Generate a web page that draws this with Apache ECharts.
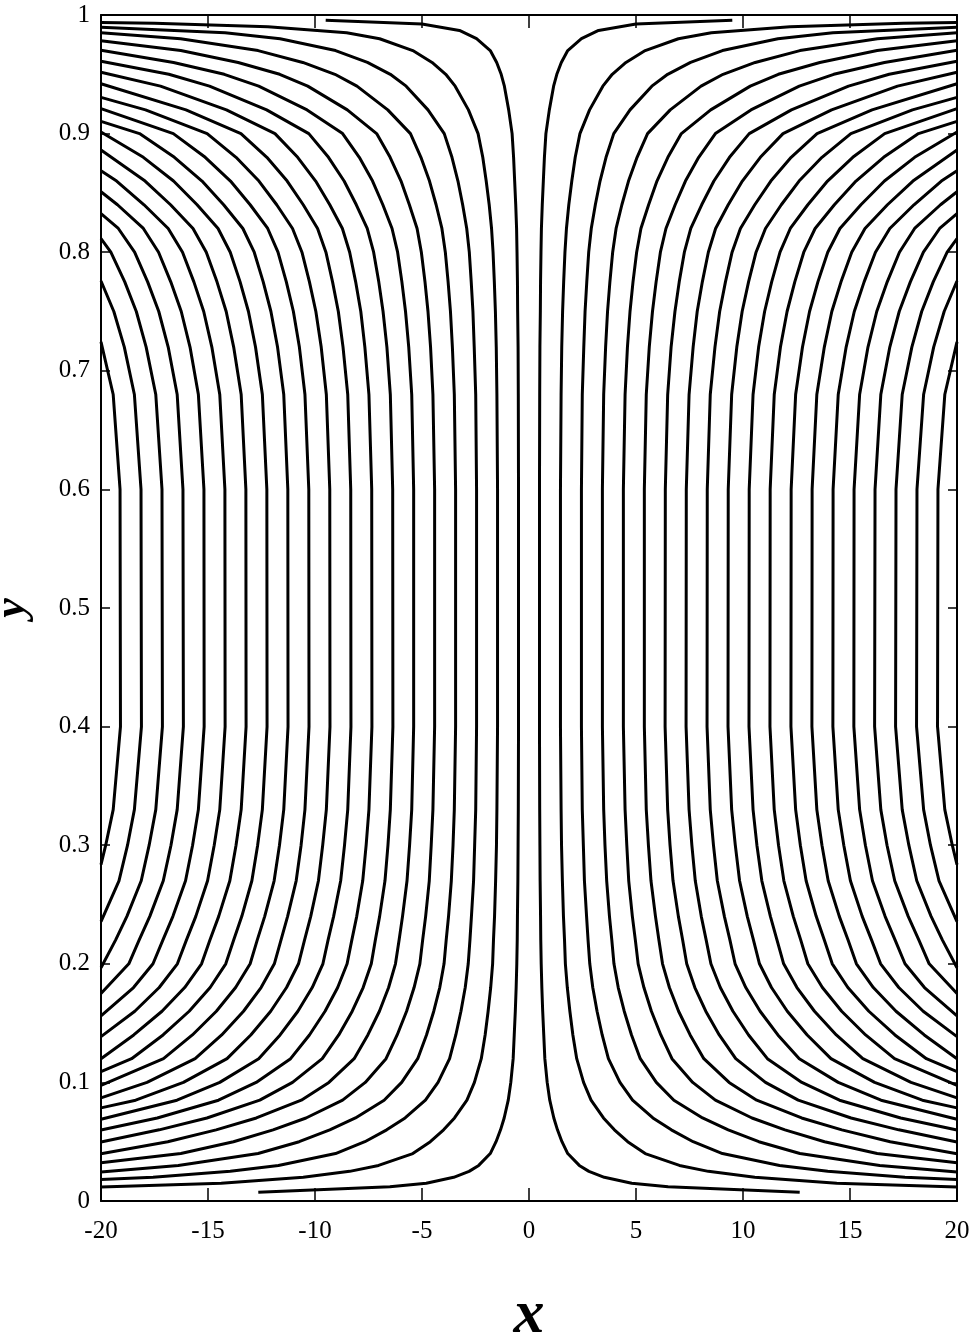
<!DOCTYPE html>
<html>
<head>
<meta charset="utf-8">
<title>Streamlines</title>
<script src="https://cdn.jsdelivr.net/npm/echarts@6/dist/echarts.min.js"></script>
<style>
  html, body { margin: 0; padding: 0; background: #fff; }
  #chart { width: 969px; height: 1337px; }
</style>
</head>
<body>
<div id="chart"></div>
<script>
// 坐标轴刻度
const xTicks = [-20, -15, -10, -5, 0, 5, 10, 15, 20];
const yTicks = [0, 0.1, 0.2, 0.3, 0.4, 0.5, 0.6, 0.7, 0.8, 0.9, 1];

// 左半部分流线 (从上边界到下边界)，[x, y]
const left00 = [[-9.5,0.9955],[-5.0,0.9924],[-3.25,0.987],[-2.45,0.98],[-1.81,0.97],[-1.51,0.96],[-1.30,0.95],[-1.15,0.94],[-0.95,0.92],[-0.79,0.90],[-0.72,0.88],[-0.67,0.86],[-0.62,0.84],[-0.58,0.82],[-0.56,0.80],[-0.54,0.775],[-0.53,0.75],[-0.51,0.72],[-0.50,0.68],[-0.49,0.60],[-0.49,0.40],[-0.50,0.33],[-0.51,0.30],[-0.52,0.27],[-0.54,0.24],[-0.55,0.22],[-0.57,0.20],[-0.60,0.18],[-0.64,0.16],[-0.69,0.14],[-0.74,0.12],[-0.85,0.10],[-0.97,0.085],[-1.16,0.07],[-1.33,0.06],[-1.54,0.05],[-1.81,0.04],[-2.35,0.03],[-2.80,0.025],[-3.52,0.02],[-4.80,0.015],[-6.5,0.012],[-12.65,0.0073]];
const left01 = [[-20,0.9936],[-17.5,0.993],[-12.2,0.99],[-8.52,0.985],[-6.98,0.98],[-5.43,0.97],[-4.53,0.96],[-3.89,0.95],[-3.45,0.94],[-2.83,0.92],[-2.38,0.90],[-2.16,0.88],[-2.0,0.86],[-1.86,0.84],[-1.75,0.82],[-1.68,0.80],[-1.62,0.775],[-1.57,0.75],[-1.53,0.72],[-1.50,0.68],[-1.47,0.60],[-1.47,0.40],[-1.50,0.33],[-1.52,0.30],[-1.56,0.27],[-1.61,0.24],[-1.66,0.22],[-1.70,0.20],[-1.79,0.18],[-1.91,0.16],[-2.05,0.14],[-2.23,0.12],[-2.55,0.10],[-2.90,0.085],[-3.48,0.07],[-3.99,0.06],[-4.61,0.05],[-5.43,0.04],[-7.03,0.03],[-8.38,0.025],[-10.55,0.02],[-14.38,0.015],[-20,0.0118]];
const left02 = [[-20,0.9897],[-14.2,0.985],[-11.63,0.98],[-9.04,0.97],[-7.55,0.96],[-6.48,0.95],[-5.74,0.94],[-4.72,0.92],[-3.96,0.90],[-3.60,0.88],[-3.32,0.86],[-3.10,0.84],[-2.91,0.82],[-2.79,0.80],[-2.70,0.775],[-2.62,0.75],[-2.56,0.72],[-2.49,0.68],[-2.45,0.60],[-2.45,0.40],[-2.49,0.33],[-2.54,0.30],[-2.59,0.27],[-2.69,0.24],[-2.76,0.22],[-2.84,0.20],[-2.98,0.18],[-3.18,0.16],[-3.42,0.14],[-3.71,0.12],[-4.25,0.10],[-4.84,0.085],[-5.79,0.07],[-6.65,0.06],[-7.67,0.05],[-9.04,0.04],[-11.71,0.03],[-13.96,0.025],[-17.57,0.02],[-20,0.0181]];
const left03 = [[-20,0.9851],[-16.28,0.98],[-12.66,0.97],[-10.57,0.96],[-9.07,0.95],[-8.04,0.94],[-6.60,0.92],[-5.54,0.90],[-5.05,0.88],[-4.65,0.86],[-4.34,0.84],[-4.07,0.82],[-3.91,0.80],[-3.78,0.775],[-3.67,0.75],[-3.58,0.72],[-3.49,0.68],[-3.43,0.60],[-3.43,0.40],[-3.49,0.33],[-3.55,0.30],[-3.63,0.27],[-3.76,0.24],[-3.87,0.22],[-3.97,0.20],[-4.17,0.18],[-4.45,0.16],[-4.79,0.14],[-5.20,0.12],[-5.95,0.10],[-6.77,0.085],[-8.11,0.07],[-9.31,0.06],[-10.74,0.05],[-12.66,0.04],[-16.39,0.03],[-20,0.0245]];
const left04 = [[-20,0.9782],[-16.27,0.97],[-13.59,0.96],[-11.65,0.95],[-10.34,0.94],[-8.49,0.92],[-7.12,0.90],[-6.49,0.88],[-5.98,0.86],[-5.59,0.84],[-5.23,0.82],[-5.03,0.80],[-4.86,0.775],[-4.72,0.75],[-4.60,0.72],[-4.49,0.68],[-4.41,0.60],[-4.41,0.40],[-4.49,0.33],[-4.57,0.30],[-4.66,0.27],[-4.83,0.24],[-4.97,0.22],[-5.10,0.20],[-5.37,0.18],[-5.72,0.16],[-6.16,0.14],[-6.68,0.12],[-7.65,0.10],[-8.71,0.085],[-10.42,0.07],[-11.96,0.06],[-13.81,0.05],[-16.27,0.04],[-20,0.0322]];
const left05 = [[-20,0.9702],[-16.61,0.96],[-14.24,0.95],[-12.63,0.94],[-10.37,0.92],[-8.71,0.90],[-7.93,0.88],[-7.31,0.86],[-6.83,0.84],[-6.40,0.82],[-6.14,0.80],[-5.94,0.775],[-5.77,0.75],[-5.62,0.72],[-5.48,0.68],[-5.39,0.60],[-5.39,0.40],[-5.48,0.33],[-5.58,0.30],[-5.70,0.27],[-5.91,0.24],[-6.07,0.22],[-6.24,0.20],[-6.56,0.18],[-6.99,0.16],[-7.53,0.14],[-8.17,0.12],[-9.35,0.10],[-10.64,0.085],[-12.74,0.07],[-14.62,0.06],[-16.88,0.05],[-20,0.0398]];
const left06 = [[-20,0.961],[-16.83,0.95],[-14.93,0.94],[-12.26,0.92],[-10.29,0.90],[-9.37,0.88],[-8.64,0.86],[-8.07,0.84],[-7.56,0.82],[-7.26,0.80],[-7.02,0.775],[-6.82,0.75],[-6.64,0.72],[-6.48,0.68],[-6.37,0.60],[-6.36,0.40],[-6.48,0.33],[-6.59,0.30],[-6.73,0.27],[-6.98,0.24],[-7.18,0.22],[-7.37,0.20],[-7.75,0.18],[-8.26,0.16],[-8.89,0.14],[-9.66,0.12],[-11.05,0.10],[-12.58,0.085],[-15.05,0.07],[-17.28,0.06],[-20,0.0498]];
const left07 = [[-20,0.9518],[-17.22,0.94],[-14.14,0.92],[-11.87,0.90],[-10.81,0.88],[-9.97,0.86],[-9.31,0.84],[-8.72,0.82],[-8.38,0.80],[-8.10,0.775],[-7.86,0.75],[-7.67,0.72],[-7.48,0.68],[-7.35,0.60],[-7.34,0.40],[-7.48,0.33],[-7.61,0.30],[-7.77,0.27],[-8.05,0.24],[-8.28,0.22],[-8.50,0.20],[-8.94,0.18],[-9.53,0.16],[-10.26,0.14],[-11.14,0.12],[-12.75,0.10],[-14.51,0.085],[-17.37,0.07],[-20,0.0598]];
const left08 = [[-20,0.942],[-16.03,0.92],[-13.46,0.90],[-12.25,0.88],[-11.30,0.86],[-10.55,0.84],[-9.88,0.82],[-9.49,0.80],[-9.18,0.775],[-8.91,0.75],[-8.69,0.72],[-8.47,0.68],[-8.33,0.60],[-8.32,0.40],[-8.47,0.33],[-8.62,0.30],[-8.80,0.27],[-9.13,0.24],[-9.39,0.22],[-9.63,0.20],[-10.13,0.18],[-10.80,0.16],[-11.63,0.14],[-12.63,0.12],[-14.45,0.10],[-16.45,0.085],[-20,0.0689]];
const left09 = [[-20,0.9305],[-17.92,0.92],[-15.04,0.90],[-13.69,0.88],[-12.62,0.86],[-11.79,0.84],[-11.05,0.82],[-10.61,0.80],[-10.26,0.775],[-9.96,0.75],[-9.71,0.72],[-9.47,0.68],[-9.31,0.60],[-9.30,0.40],[-9.47,0.33],[-9.64,0.30],[-9.84,0.27],[-10.20,0.24],[-10.49,0.22],[-10.77,0.20],[-11.33,0.18],[-12.07,0.16],[-13.00,0.14],[-14.11,0.12],[-16.15,0.10],[-18.38,0.085],[-20,0.0785]];
const left10 = [[-20,0.921],[-16.62,0.90],[-15.13,0.88],[-13.95,0.86],[-13.03,0.84],[-12.21,0.82],[-11.73,0.80],[-11.34,0.775],[-11.01,0.75],[-10.73,0.72],[-10.47,0.68],[-10.29,0.60],[-10.28,0.40],[-10.47,0.33],[-10.65,0.30],[-10.88,0.27],[-11.28,0.24],[-11.59,0.22],[-11.90,0.20],[-12.52,0.18],[-13.34,0.16],[-14.36,0.14],[-15.60,0.12],[-17.85,0.10],[-20,0.0869]];
const left11 = [[-20,0.9103],[-18.20,0.90],[-16.57,0.88],[-15.28,0.86],[-14.27,0.84],[-13.37,0.82],[-12.84,0.80],[-12.42,0.775],[-12.06,0.75],[-11.75,0.72],[-11.46,0.68],[-11.27,0.60],[-11.26,0.40],[-11.46,0.33],[-11.66,0.30],[-11.91,0.27],[-12.35,0.24],[-12.70,0.22],[-13.03,0.20],[-13.71,0.18],[-14.61,0.16],[-15.73,0.14],[-17.08,0.12],[-20,0.0975]];
const left12 = [[-20,0.9013],[-18.02,0.88],[-16.61,0.86],[-15.51,0.84],[-14.53,0.82],[-13.96,0.80],[-13.50,0.775],[-13.11,0.75],[-12.78,0.72],[-12.46,0.68],[-12.25,0.60],[-12.24,0.40],[-12.46,0.33],[-12.68,0.30],[-12.95,0.27],[-13.42,0.24],[-13.80,0.22],[-14.17,0.20],[-14.90,0.18],[-15.88,0.16],[-17.10,0.14],[-18.57,0.12],[-20,0.109]];
const left13 = [[-20,0.8862],[-17.94,0.86],[-16.75,0.84],[-15.70,0.82],[-15.08,0.80],[-14.58,0.775],[-14.15,0.75],[-13.80,0.72],[-13.45,0.68],[-13.23,0.60],[-13.22,0.40],[-13.45,0.33],[-13.69,0.30],[-13.98,0.27],[-14.50,0.24],[-14.91,0.22],[-15.30,0.20],[-16.09,0.18],[-17.15,0.16],[-18.47,0.14],[-20,0.12]];
const left14 = [[-20,0.8687],[-19.27,0.86],[-17.99,0.84],[-16.86,0.82],[-16.19,0.80],[-15.66,0.775],[-15.20,0.75],[-14.82,0.72],[-14.45,0.68],[-14.21,0.60],[-14.20,0.40],[-14.45,0.33],[-14.71,0.30],[-15.02,0.27],[-15.57,0.24],[-16.01,0.22],[-16.43,0.20],[-17.28,0.18],[-18.42,0.16],[-20,0.1386]];
const left15 = [[-20,0.851],[-19.23,0.84],[-18.02,0.82],[-17.31,0.80],[-16.74,0.775],[-16.25,0.75],[-15.84,0.72],[-15.45,0.68],[-15.19,0.60],[-15.18,0.40],[-15.45,0.33],[-15.72,0.30],[-16.05,0.27],[-16.64,0.24],[-17.11,0.22],[-17.57,0.20],[-18.48,0.18],[-20,0.156]];
const left16 = [[-20,0.8325],[-19.19,0.82],[-18.43,0.80],[-17.82,0.775],[-17.30,0.75],[-16.86,0.72],[-16.44,0.68],[-16.17,0.60],[-16.15,0.40],[-16.44,0.33],[-16.73,0.30],[-17.09,0.27],[-17.72,0.24],[-18.22,0.22],[-18.70,0.20],[-20,0.175]];
const left17 = [[-20,0.8115],[-19.54,0.80],[-18.89,0.775],[-18.35,0.75],[-17.89,0.72],[-17.44,0.68],[-17.15,0.60],[-17.13,0.40],[-17.44,0.33],[-17.75,0.30],[-18.12,0.27],[-18.79,0.24],[-19.32,0.22],[-20,0.1967]];
const left18 = [[-20,0.7757],[-19.40,0.75],[-18.91,0.72],[-18.44,0.68],[-18.13,0.60],[-18.11,0.40],[-18.44,0.33],[-18.76,0.30],[-19.16,0.27],[-20,0.2355]];
const left19 = [[-20,0.7244],[-19.43,0.68],[-19.11,0.60],[-19.09,0.40],[-19.43,0.33],[-19.78,0.30],[-20,0.2836]];

// 右半部分流线
const right00 = [[9.5,0.9955],[5.0,0.9924],[3.25,0.987],[2.45,0.98],[1.81,0.97],[1.51,0.96],[1.30,0.95],[1.15,0.94],[0.95,0.92],[0.79,0.90],[0.72,0.88],[0.67,0.86],[0.62,0.84],[0.58,0.82],[0.56,0.80],[0.54,0.775],[0.53,0.75],[0.51,0.72],[0.50,0.68],[0.49,0.60],[0.49,0.40],[0.50,0.33],[0.51,0.30],[0.52,0.27],[0.54,0.24],[0.55,0.22],[0.57,0.20],[0.60,0.18],[0.64,0.16],[0.69,0.14],[0.74,0.12],[0.85,0.10],[0.97,0.085],[1.16,0.07],[1.33,0.06],[1.54,0.05],[1.81,0.04],[2.35,0.03],[2.80,0.025],[3.52,0.02],[4.80,0.015],[6.5,0.012],[12.65,0.0073]];
const right01 = [[20,0.9936],[17.5,0.993],[12.2,0.99],[8.52,0.985],[6.98,0.98],[5.43,0.97],[4.53,0.96],[3.89,0.95],[3.45,0.94],[2.83,0.92],[2.38,0.90],[2.16,0.88],[2.0,0.86],[1.86,0.84],[1.75,0.82],[1.68,0.80],[1.62,0.775],[1.57,0.75],[1.53,0.72],[1.50,0.68],[1.47,0.60],[1.47,0.40],[1.50,0.33],[1.52,0.30],[1.56,0.27],[1.61,0.24],[1.66,0.22],[1.70,0.20],[1.79,0.18],[1.91,0.16],[2.05,0.14],[2.23,0.12],[2.55,0.10],[2.90,0.085],[3.48,0.07],[3.99,0.06],[4.61,0.05],[5.43,0.04],[7.03,0.03],[8.38,0.025],[10.55,0.02],[14.38,0.015],[20,0.0118]];
const right02 = [[20,0.9897],[14.2,0.985],[11.63,0.98],[9.04,0.97],[7.55,0.96],[6.48,0.95],[5.74,0.94],[4.72,0.92],[3.96,0.90],[3.60,0.88],[3.32,0.86],[3.10,0.84],[2.91,0.82],[2.79,0.80],[2.70,0.775],[2.62,0.75],[2.56,0.72],[2.49,0.68],[2.45,0.60],[2.45,0.40],[2.49,0.33],[2.54,0.30],[2.59,0.27],[2.69,0.24],[2.76,0.22],[2.84,0.20],[2.98,0.18],[3.18,0.16],[3.42,0.14],[3.71,0.12],[4.25,0.10],[4.84,0.085],[5.79,0.07],[6.65,0.06],[7.67,0.05],[9.04,0.04],[11.71,0.03],[13.96,0.025],[17.57,0.02],[20,0.0181]];
const right03 = [[20,0.9851],[16.28,0.98],[12.66,0.97],[10.57,0.96],[9.07,0.95],[8.04,0.94],[6.60,0.92],[5.54,0.90],[5.05,0.88],[4.65,0.86],[4.34,0.84],[4.07,0.82],[3.91,0.80],[3.78,0.775],[3.67,0.75],[3.58,0.72],[3.49,0.68],[3.43,0.60],[3.43,0.40],[3.49,0.33],[3.55,0.30],[3.63,0.27],[3.76,0.24],[3.87,0.22],[3.97,0.20],[4.17,0.18],[4.45,0.16],[4.79,0.14],[5.20,0.12],[5.95,0.10],[6.77,0.085],[8.11,0.07],[9.31,0.06],[10.74,0.05],[12.66,0.04],[16.39,0.03],[20,0.0245]];
const right04 = [[20,0.9782],[16.27,0.97],[13.59,0.96],[11.65,0.95],[10.34,0.94],[8.49,0.92],[7.12,0.90],[6.49,0.88],[5.98,0.86],[5.59,0.84],[5.23,0.82],[5.03,0.80],[4.86,0.775],[4.72,0.75],[4.60,0.72],[4.49,0.68],[4.41,0.60],[4.41,0.40],[4.49,0.33],[4.57,0.30],[4.66,0.27],[4.83,0.24],[4.97,0.22],[5.10,0.20],[5.37,0.18],[5.72,0.16],[6.16,0.14],[6.68,0.12],[7.65,0.10],[8.71,0.085],[10.42,0.07],[11.96,0.06],[13.81,0.05],[16.27,0.04],[20,0.0322]];
const right05 = [[20,0.9702],[16.61,0.96],[14.24,0.95],[12.63,0.94],[10.37,0.92],[8.71,0.90],[7.93,0.88],[7.31,0.86],[6.83,0.84],[6.40,0.82],[6.14,0.80],[5.94,0.775],[5.77,0.75],[5.62,0.72],[5.48,0.68],[5.39,0.60],[5.39,0.40],[5.48,0.33],[5.58,0.30],[5.70,0.27],[5.91,0.24],[6.07,0.22],[6.24,0.20],[6.56,0.18],[6.99,0.16],[7.53,0.14],[8.17,0.12],[9.35,0.10],[10.64,0.085],[12.74,0.07],[14.62,0.06],[16.88,0.05],[20,0.0398]];
const right06 = [[20,0.961],[16.83,0.95],[14.93,0.94],[12.26,0.92],[10.29,0.90],[9.37,0.88],[8.64,0.86],[8.07,0.84],[7.56,0.82],[7.26,0.80],[7.02,0.775],[6.82,0.75],[6.64,0.72],[6.48,0.68],[6.37,0.60],[6.36,0.40],[6.48,0.33],[6.59,0.30],[6.73,0.27],[6.98,0.24],[7.18,0.22],[7.37,0.20],[7.75,0.18],[8.26,0.16],[8.89,0.14],[9.66,0.12],[11.05,0.10],[12.58,0.085],[15.05,0.07],[17.28,0.06],[20,0.0498]];
const right07 = [[20,0.9518],[17.22,0.94],[14.14,0.92],[11.87,0.90],[10.81,0.88],[9.97,0.86],[9.31,0.84],[8.72,0.82],[8.38,0.80],[8.10,0.775],[7.86,0.75],[7.67,0.72],[7.48,0.68],[7.35,0.60],[7.34,0.40],[7.48,0.33],[7.61,0.30],[7.77,0.27],[8.05,0.24],[8.28,0.22],[8.50,0.20],[8.94,0.18],[9.53,0.16],[10.26,0.14],[11.14,0.12],[12.75,0.10],[14.51,0.085],[17.37,0.07],[20,0.0598]];
const right08 = [[20,0.942],[16.03,0.92],[13.46,0.90],[12.25,0.88],[11.30,0.86],[10.55,0.84],[9.88,0.82],[9.49,0.80],[9.18,0.775],[8.91,0.75],[8.69,0.72],[8.47,0.68],[8.33,0.60],[8.32,0.40],[8.47,0.33],[8.62,0.30],[8.80,0.27],[9.13,0.24],[9.39,0.22],[9.63,0.20],[10.13,0.18],[10.80,0.16],[11.63,0.14],[12.63,0.12],[14.45,0.10],[16.45,0.085],[20,0.0689]];
const right09 = [[20,0.9305],[17.92,0.92],[15.04,0.90],[13.69,0.88],[12.62,0.86],[11.79,0.84],[11.05,0.82],[10.61,0.80],[10.26,0.775],[9.96,0.75],[9.71,0.72],[9.47,0.68],[9.31,0.60],[9.30,0.40],[9.47,0.33],[9.64,0.30],[9.84,0.27],[10.20,0.24],[10.49,0.22],[10.77,0.20],[11.33,0.18],[12.07,0.16],[13.00,0.14],[14.11,0.12],[16.15,0.10],[18.38,0.085],[20,0.0785]];
const right10 = [[20,0.921],[16.62,0.90],[15.13,0.88],[13.95,0.86],[13.03,0.84],[12.21,0.82],[11.73,0.80],[11.34,0.775],[11.01,0.75],[10.73,0.72],[10.47,0.68],[10.29,0.60],[10.28,0.40],[10.47,0.33],[10.65,0.30],[10.88,0.27],[11.28,0.24],[11.59,0.22],[11.90,0.20],[12.52,0.18],[13.34,0.16],[14.36,0.14],[15.60,0.12],[17.85,0.10],[20,0.0869]];
const right11 = [[20,0.9103],[18.20,0.90],[16.57,0.88],[15.28,0.86],[14.27,0.84],[13.37,0.82],[12.84,0.80],[12.42,0.775],[12.06,0.75],[11.75,0.72],[11.46,0.68],[11.27,0.60],[11.26,0.40],[11.46,0.33],[11.66,0.30],[11.91,0.27],[12.35,0.24],[12.70,0.22],[13.03,0.20],[13.71,0.18],[14.61,0.16],[15.73,0.14],[17.08,0.12],[20,0.0975]];
const right12 = [[20,0.9013],[18.02,0.88],[16.61,0.86],[15.51,0.84],[14.53,0.82],[13.96,0.80],[13.50,0.775],[13.11,0.75],[12.78,0.72],[12.46,0.68],[12.25,0.60],[12.24,0.40],[12.46,0.33],[12.68,0.30],[12.95,0.27],[13.42,0.24],[13.80,0.22],[14.17,0.20],[14.90,0.18],[15.88,0.16],[17.10,0.14],[18.57,0.12],[20,0.109]];
const right13 = [[20,0.8862],[17.94,0.86],[16.75,0.84],[15.70,0.82],[15.08,0.80],[14.58,0.775],[14.15,0.75],[13.80,0.72],[13.45,0.68],[13.23,0.60],[13.22,0.40],[13.45,0.33],[13.69,0.30],[13.98,0.27],[14.50,0.24],[14.91,0.22],[15.30,0.20],[16.09,0.18],[17.15,0.16],[18.47,0.14],[20,0.12]];
const right14 = [[20,0.8687],[19.27,0.86],[17.99,0.84],[16.86,0.82],[16.19,0.80],[15.66,0.775],[15.20,0.75],[14.82,0.72],[14.45,0.68],[14.21,0.60],[14.20,0.40],[14.45,0.33],[14.71,0.30],[15.02,0.27],[15.57,0.24],[16.01,0.22],[16.43,0.20],[17.28,0.18],[18.42,0.16],[20,0.1386]];
const right15 = [[20,0.851],[19.23,0.84],[18.02,0.82],[17.31,0.80],[16.74,0.775],[16.25,0.75],[15.84,0.72],[15.45,0.68],[15.19,0.60],[15.18,0.40],[15.45,0.33],[15.72,0.30],[16.05,0.27],[16.64,0.24],[17.11,0.22],[17.57,0.20],[18.48,0.18],[20,0.156]];
const right16 = [[20,0.8325],[19.19,0.82],[18.43,0.80],[17.82,0.775],[17.30,0.75],[16.86,0.72],[16.44,0.68],[16.17,0.60],[16.15,0.40],[16.44,0.33],[16.73,0.30],[17.09,0.27],[17.72,0.24],[18.22,0.22],[18.70,0.20],[20,0.175]];
const right17 = [[20,0.8115],[19.54,0.80],[18.89,0.775],[18.35,0.75],[17.89,0.72],[17.44,0.68],[17.15,0.60],[17.13,0.40],[17.44,0.33],[17.75,0.30],[18.12,0.27],[18.79,0.24],[19.32,0.22],[20,0.1967]];
const right18 = [[20,0.7757],[19.40,0.75],[18.91,0.72],[18.44,0.68],[18.13,0.60],[18.11,0.40],[18.44,0.33],[18.76,0.30],[19.16,0.27],[20,0.2355]];
const right19 = [[20,0.7244],[19.43,0.68],[19.11,0.60],[19.09,0.40],[19.43,0.33],[19.78,0.30],[20,0.2836]];

const leftCurves = [left00, left01, left02, left03, left04, left05, left06, left07, left08, left09,
  left10, left11, left12, left13, left14, left15, left16, left17, left18, left19];
const rightCurves = [right00, right01, right02, right03, right04, right05, right06, right07, right08, right09,
  right10, right11, right12, right13, right14, right15, right16, right17, right18, right19];

const FONT = '"Liberation Serif", "Times New Roman", serif';

document.addEventListener('DOMContentLoaded', function() {
  const chart = echarts.init(document.getElementById('chart'), null, { renderer: 'canvas' });
  chart.setOption(buildOption());
});

/**
 * 坐标轴公共样式
 */
function axisBase(position, tickLen, showLabel) {
  return {
    type: 'value',
    position: position,
    axisLine: { show: true, onZero: false, lineStyle: { color: '#000', width: 2 } },
    axisTick: { show: true, inside: true, length: tickLen, lineStyle: { color: '#000', width: 1.5 } },
    axisLabel: showLabel
      ? { show: true, color: '#000', fontFamily: FONT, fontSize: 25 }
      : { show: false },
    splitLine: { show: false }
  };
}

/**
 * 生成图表配置
 */
function buildOption() {
  const series = leftCurves.concat(rightCurves).map((pts, i) => ({
    name: 'line' + i,
    type: 'line',
    data: pts,
    xAxisIndex: 0,
    yAxisIndex: 0,
    showSymbol: false,
    symbol: 'none',
    clip: true,
    silent: true,
    lineStyle: { color: '#000', width: 3, cap: 'butt', join: 'round' }
  }));

  const xNameStyle = { color: '#000', fontFamily: FONT, fontSize: 62, fontStyle: 'italic', fontWeight: 'bold' };
  const yNameStyle = { color: '#000', fontFamily: FONT, fontSize: 44, fontStyle: 'italic', fontWeight: 'bold' };

  const xBottom = Object.assign(axisBase('bottom', 13, true), {
    min: xTicks[0], max: xTicks[xTicks.length - 1], interval: 5,
    name: 'x', nameLocation: 'middle', nameGap: 84, nameTextStyle: xNameStyle
  });
  xBottom.axisLabel.margin = 18;
  const xTop = Object.assign(axisBase('top', 13, false), {
    min: xTicks[0], max: xTicks[xTicks.length - 1], interval: 5
  });
  const yLeft = Object.assign(axisBase('left', 9, true), {
    min: yTicks[0], max: yTicks[yTicks.length - 1], interval: 0.1,
    name: 'y', nameLocation: 'middle', nameGap: 66, nameRotate: 90, nameTextStyle: yNameStyle
  });
  yLeft.axisLabel.margin = 11;
  const yRight = Object.assign(axisBase('right', 9, false), {
    min: yTicks[0], max: yTicks[yTicks.length - 1], interval: 0.1
  });

  return {
    animation: false,
    backgroundColor: '#fff',
    grid: { left: 101, right: 12, top: 15, bottom: 136, containLabel: false, outerBoundsMode: 'none' },
    xAxis: [xBottom, xTop],
    yAxis: [yLeft, yRight],
    series: series
  };
}
</script>
</body>
</html>
